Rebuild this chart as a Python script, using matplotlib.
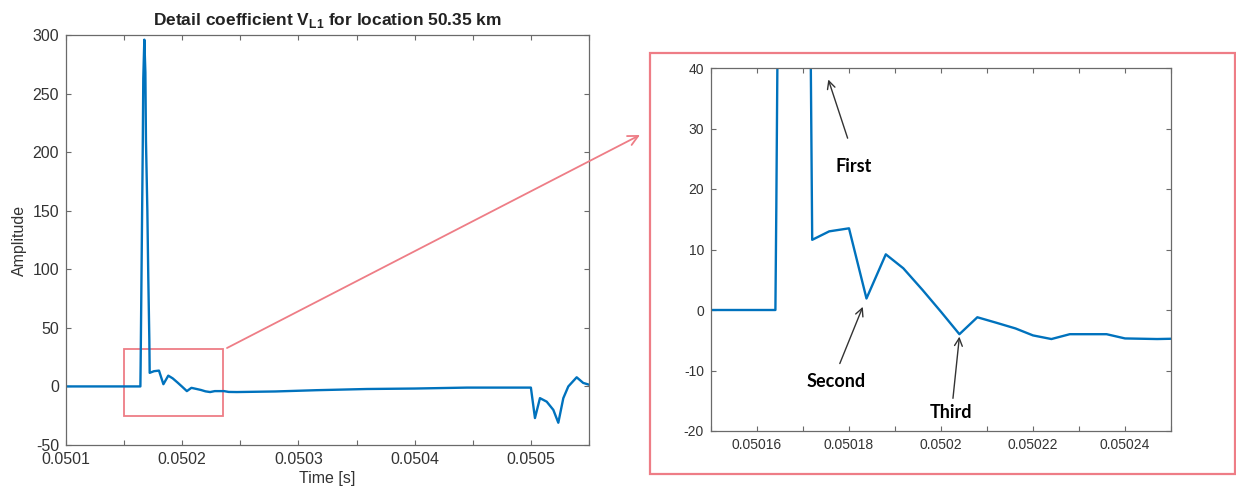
import numpy as np
import matplotlib
matplotlib.use('Agg')
import matplotlib.pyplot as plt
from matplotlib.patches import Rectangle
from matplotlib.ticker import MultipleLocator, FuncFormatter

plt.rcParams['font.family'] = ['Liberation Sans', 'DejaVu Sans']
plt.rcParams['axes.unicode_minus'] = False
plt.rcParams['mathtext.fontset'] = 'custom'
plt.rcParams['mathtext.rm'] = 'Liberation Sans'
plt.rcParams['mathtext.bf'] = 'Liberation Sans:bold'

# Señal completa (tiempo [s], amplitud)
t_full = [0.0501, 0.050164, 0.0501642, 0.0501648, 0.0501654, 0.050166, 0.0501665,
          0.0501674, 0.0501683, 0.0501688, 0.05017, 0.0501708, 0.0501717, 0.050172,
          0.0501757, 0.05018, 0.0501838, 0.050188, 0.0501918, 0.050196, 0.0502,
          0.050204, 0.0502079, 0.050212, 0.0502162, 0.05022, 0.050224, 0.050228,
          0.050236, 0.05024, 0.050247, 0.05028, 0.050316, 0.050359, 0.05040,
          0.050445, 0.0505, 0.0505035, 0.0505078, 0.0505136, 0.0505193, 0.0505236,
          0.0505279, 0.0505322, 0.0505394, 0.050545, 0.05055]
v_full = [0, 0, 17, 78, 140, 200, 263,
          296, 268, 210, 150, 93, 40, 11.6,
          13.0, 13.5, 1.9, 9.2, 6.9, 3.3, -0.3,
          -4.0, -1.2, -2.1, -3.05, -4.2, -4.8, -4.0,
          -4.0, -4.7, -4.8, -4.3, -3.2, -2.2, -1.8,
          -1.0, -1.0, -27, -10, -13, -20, -31,
          -10, 0, 7.8, 3, 1.5]

# Anotaciones del zoom
ann_labels = ['First', 'Second', 'Third']
ann_text_xy = [(0.050181, 23.7), (0.0501772, -11.9), (0.0502021, -16.9)]
ann_tail_xy = [(0.0501797, 28.4), (0.050178, -8.85), (0.0502026, -14.6)]
ann_head_xy = [(0.0501755, 38.1), (0.050183, 0.53), (0.050204, -4.4)]

blue = '#0072BD'
red = '#ee7d86'
txt = '#333333'
spine = '#6a6a6a'

W, H = 1236, 497
fig = plt.figure(figsize=(W / 100, H / 100), dpi=100)


def estilo(ax, fs):
    for s in ax.spines.values():
        s.set_color(spine)
        s.set_linewidth(0.9)
    ax.tick_params(which='both', direction='in', top=True, right=True,
                   length=3.5, width=0.8, color=spine, labelcolor=txt,
                   labelsize=fs, pad=5)


# Gráfica principal
ax1 = fig.add_axes([66 / W, 1 - 445 / H, (589 - 66) / W, (445 - 35) / H])
ax1.plot(t_full, v_full, color=blue, lw=1.7)
ax1.set_xlim(0.0501, 0.05055)
ax1.set_ylim(-50, 300)
ax1.xaxis.set_major_locator(MultipleLocator(0.0001))
ax1.xaxis.set_minor_locator(MultipleLocator(0.00005))
ax1.yaxis.set_major_locator(MultipleLocator(50))
ax1.xaxis.set_major_formatter(FuncFormatter(lambda v, p: '%g' % round(v, 6)))
estilo(ax1, 11.5)
ax1.set_xlabel('Time [s]', fontsize=11.5, color=txt, labelpad=3)
ax1.set_ylabel('Amplitude', fontsize=11.5, color=txt, labelpad=4)
ax1.set_title(r'Detail coefficient V$_{\mathbf{L1}}$ for location 50.35 km',
              fontsize=12.5, fontweight='bold', color='#222222', pad=7)
ax1.add_patch(Rectangle((0.05015, -25), 0.000085, 57, fill=False,
                        ec=red, lw=1.3))

# Gráfica ampliada
ax2 = fig.add_axes([711 / W, 1 - 431 / H, (1171 - 711) / W, (431 - 68) / H])
ax2.plot(t_full, v_full, color=blue, lw=1.7)
ax2.set_xlim(0.05015, 0.05025)
ax2.set_ylim(-20, 40)
ax2.xaxis.set_major_locator(MultipleLocator(0.00002))
ax2.xaxis.set_minor_locator(MultipleLocator(0.00001))
ax2.yaxis.set_major_locator(MultipleLocator(10))
ax2.xaxis.set_major_formatter(FuncFormatter(lambda v, p: '%g' % round(v, 7)))
estilo(ax2, 10)

for lab, pt, tail, head in zip(ann_labels, ann_text_xy, ann_tail_xy, ann_head_xy):
    ax2.annotate('', xy=head, xytext=tail,
                 arrowprops=dict(arrowstyle='->', color='#333333', lw=1.0,
                                 shrinkA=0, shrinkB=0, mutation_scale=14))
    ax2.text(pt[0], pt[1], lab, ha='center', va='center', fontsize=13,
             fontweight='bold', family=['Lato', 'DejaVu Sans'], color='black')

# Marco rojo y flecha
fig.patches.append(Rectangle((650 / W, 1 - 474 / H), (1235 - 650) / W, (474 - 53) / H,
                             transform=fig.transFigure, fill=False, ec=red, lw=1.6))
fig.add_artist(matplotlib.patches.FancyArrowPatch(
    (227 / W, 1 - 348 / H), (640 / W, 1 - 135 / H), transform=fig.transFigure,
    arrowstyle='->', mutation_scale=18, color=red, lw=1.3, shrinkA=0, shrinkB=0))

fig.savefig('out.png', dpi=100)
